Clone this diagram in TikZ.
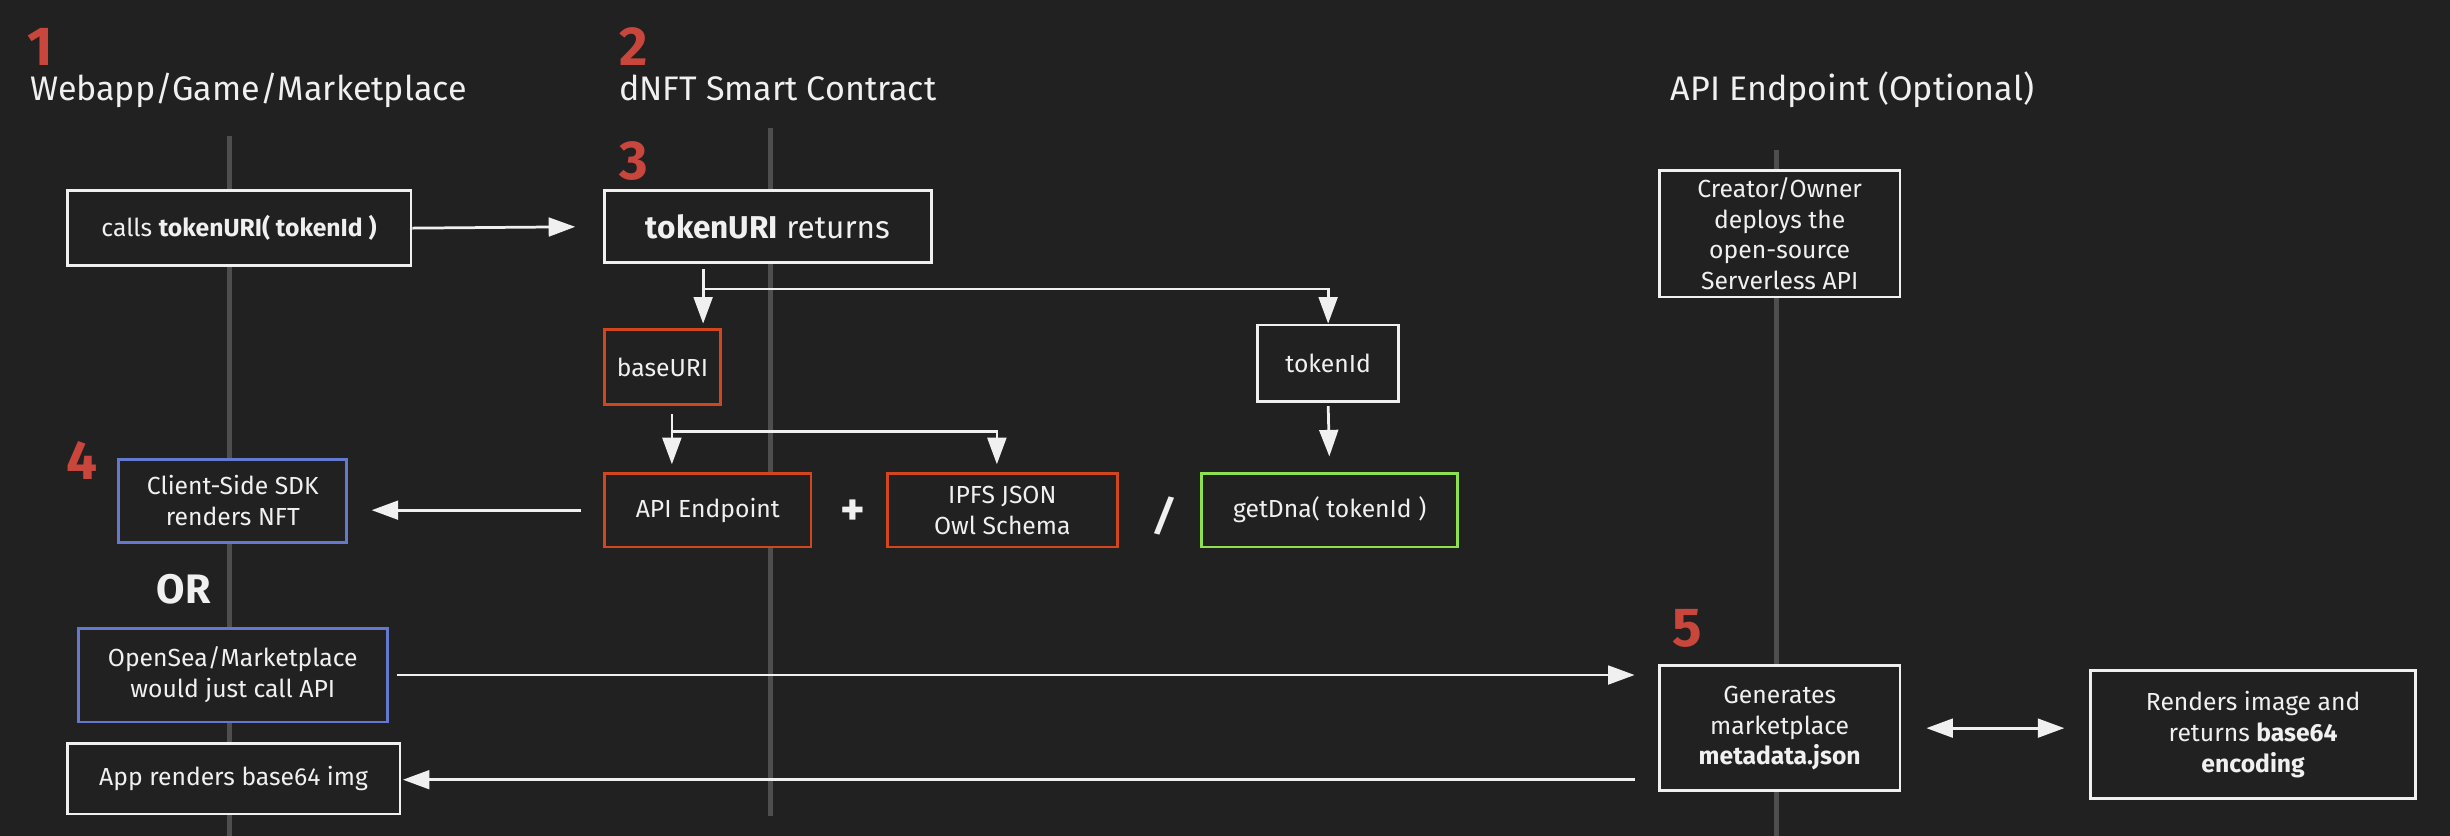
\documentclass[tikz,border=0pt]{standalone}
\usepackage{fontspec}
\setmainfont{Fira Sans}
\usetikzlibrary{arrows.meta}
\definecolor{bgc}{RGB}{33,33,33}
\definecolor{lifec}{RGB}{78,78,78}
\definecolor{numred}{RGB}{201,70,61}
\definecolor{orng}{RGB}{210,70,30}
\definecolor{blu}{RGB}{100,120,208}
\definecolor{grn}{RGB}{142,224,80}
\definecolor{wht}{RGB}{240,240,240}
\begin{document}
\begin{tikzpicture}[x=0.02cm,y=-0.02cm,
  box/.style={draw=wht,fill=bgc,line width=1pt,inner sep=0pt,align=center,text=wht,
    font=\fontsize{9}{11.2}\selectfont},
  obox/.style={box,draw=orng},
  bbox/.style={box,draw=blu},
  gbox/.style={box,draw=grn},
  life/.style={draw=lifec,line width=0.06cm},
  arr/.style={draw=wht,line width=1pt,-{Triangle[length=0.34cm,width=0.24cm]}},
  darr/.style={draw=wht,line width=1pt,{Triangle[length=0.34cm,width=0.24cm]}-{Triangle[length=0.34cm,width=0.24cm]}},
  num/.style={text=numred,inner sep=0pt,anchor=base west,text depth=0pt,font=\fontsize{20}{24}\selectfont\bfseries},
  head/.style={text=wht,inner sep=0pt,anchor=base west,text height=9pt,font=\fontsize{12.4}{15}\selectfont}]
\fill[bgc] (0,0) rectangle (1568,535);
\useasboundingbox (0,0) rectangle (1568,535);

% lifelines
\coordinate (l1t) at (147,87);  \coordinate (l1b) at (147,535);
\coordinate (l2t) at (493,82);  \coordinate (l2b) at (493,522);
\coordinate (l3t) at (1137,96); \coordinate (l3b) at (1137,535);
\draw[life] (l1t) -- (l1b);
\draw[life] (l2t) -- (l2b);
\draw[life] (l3t) -- (l3b);

% headings
\node[num] (n1) at (17,42) {1};
\node[head] (h1) at (19,64) {Webapp/Game/Marketplace};
\node[num] (n2) at (396,42) {2};
\node[head] (h2) at (396,64) {dNFT Smart Contract};
\node[head] (h3) at (1069,64) {API Endpoint (Optional)};
\node[num] (n3) at (396,115) {3};
\node[num] (n4) at (42,307) {4};
\node[num] (n5) at (1070,414) {5};

% boxes
\node[box,minimum width=4.40cm,minimum height=0.96cm] (b1) at (153,146) {calls \textbf{tokenURI( tokenId )}};
\node[box,minimum width=4.18cm,minimum height=0.92cm,font=\fontsize{11.5}{14}\selectfont] (b2) at (491.5,145) {\textbf{tokenURI} returns};
\node[obox,minimum width=1.48cm,minimum height=0.96cm] (base) at (424,235) {baseURI};
\node[box,minimum width=1.80cm,minimum height=0.98cm] (tok) at (850,232.5) {tokenId};
\node[obox,minimum width=2.64cm,minimum height=0.94cm] (api) at (453,326.5) {API Endpoint};
\node[obox,minimum width=2.94cm,minimum height=0.94cm] (ipfs) at (641.5,326.5) {IPFS JSON\\Owl Schema};
\node[gbox,minimum width=3.28cm,minimum height=0.94cm] (dna) at (851,326.5) {getDna( tokenId )};
\node[bbox,minimum width=2.92cm,minimum height=1.06cm] (sdk) at (149,320.5) {Client-Side SDK\\renders NFT};
\node[text=wht,inner sep=0pt,anchor=base west,font=\fontsize{15}{18}\selectfont\bfseries] (or) at (100,386) {OR};
\node[bbox,minimum width=3.96cm,minimum height=1.20cm] (osea) at (149,432) {OpenSea/Marketplace\\would just call API};
\node[box,minimum width=4.26cm,minimum height=0.90cm] (app) at (149.5,498.5) {App renders base64 img};
\node[box,minimum width=3.08cm,minimum height=1.62cm] (creator) at (1139,149.5) {Creator/Owner\\deploys the\\open-source\\Serverless API};
\node[box,minimum width=3.08cm,minimum height=1.60cm] (gen) at (1139,466) {Generates\\marketplace\\\textbf{metadata.json}};
\node[box,minimum width=4.16cm,minimum height=1.64cm] (rend) at (1442,470) {Renders image and\\returns \textbf{base64}\\\textbf{encoding}};

\node[text=wht,inner sep=0pt,font=\fontsize{17}{20}\selectfont\bfseries] (plus) at (546,328) {+};
\node[text=wht,inner sep=0pt,font=\fontsize{15}{18}\selectfont\bfseries\itshape] (slash) at (745,330) {/};

% connectors
\draw[arr,shorten >=0.36cm] (b1.east) -- (b2.west);

\coordinate (s1) at (450,172);
\coordinate (f1) at (450,185);
\draw[arr,shorten >=0.06cm] (s1) -- (s1 |- base.north);
\draw[arr] (f1) -| (tok.north);

\coordinate (s2) at (430,265);
\coordinate (f2) at (430,276);
\coordinate (e2) at (638,276);
\draw[arr,shorten >=0.1cm] (s2) -- (s2 |- api.north);
\draw[arr,shorten >=0.1cm] (f2) -- (e2) -- (e2 |- ipfs.north);

\draw[arr,shorten <=0.04cm,shorten >=0.2cm] (tok.south) -- (dna.north);

\draw[arr,shorten <=0.28cm,shorten >=0.3cm] (api.west) -- (api.west -| sdk.east);

\draw[arr,shorten <=0.1cm,shorten >=0.3cm] (osea.east) -- (osea.east -| gen.west);

\coordinate (ya) at (0,499);
\draw[arr,shorten <=0.3cm,shorten >=0.02cm] (gen.west |- ya) -- (app.east |- ya);

\draw[darr,shorten <=0.32cm,shorten >=0.32cm] (gen.east) -- (gen.east -| rend.west);
\end{tikzpicture}
\end{document}
